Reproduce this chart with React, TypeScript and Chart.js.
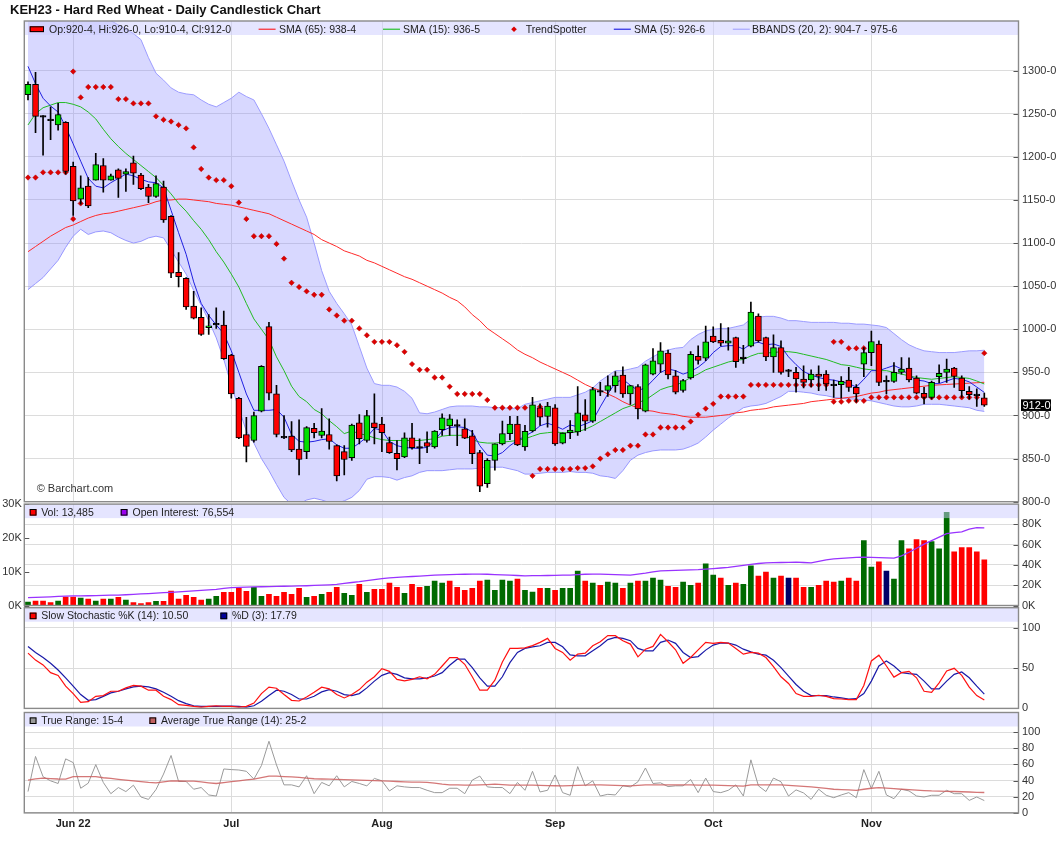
import { useEffect, useRef } from "react";
import { Chart, registerables, type Plugin } from "chart.js";

Chart.register(...registerables);

// ---- data (one value per trading day, May 23 -> Nov 22) ----
const opens = [
    1272, 1284, 1246, 1242, 1237, 1240, 1189, 1151, 1166, 1173,
    1190, 1173, 1185, 1180, 1193, 1179, 1165, 1154, 1165, 1131,
    1066, 1059, 1027, 1014, 1002, 1005, 1005, 970, 920, 878,
    871, 905, 1003, 925, 874, 876, 861, 858, 885, 877,
    878, 865, 858, 851, 891.5, 871, 891.5, 890, 868.5, 856,
    852, 874, 862, 868.5, 863.5, 883.5, 888, 887.7, 884.6, 876.5,
    857, 821, 848, 867, 879, 890, 863.5, 882, 909, 899,
    909, 868, 880, 880.8, 900.8, 893.5, 927, 929, 934.6, 947,
    925, 933.5, 905, 948, 959.6, 972.3, 946, 929, 943.5, 968.5,
    966.5, 992, 987.3, 983.8, 990.4, 966, 980.4, 1015.4, 990.4, 968,
    978.8, 951, 950, 942.3, 941.2, 948, 948, 934.6, 935.8, 941,
    932.7, 959.6, 973, 982.7, 939, 939.6, 950, 955, 943.5, 925.8,
    921, 945, 950, 955, 943.5, 928, 923, 920.5,
];
const highs = [
    1287, 1298, 1248, 1258, 1262, 1241, 1194, 1178, 1176, 1204,
    1198, 1180, 1186, 1186, 1201, 1181, 1168, 1178, 1172, 1132,
    1089, 1060, 1044, 1025, 1017, 1025, 1021, 971, 921, 898,
    904, 958, 1008, 935, 900, 893, 895, 887, 891, 908,
    896, 866, 865, 890, 901, 906, 925, 898, 875, 871,
    880, 891, 873, 881, 882.5, 902, 901, 895, 896, 882.7,
    859.6, 850, 867, 893.5, 899, 899, 888.5, 921, 913.5, 915.4,
    912.7, 880, 894, 933.5, 918.5, 932.7, 938.5, 946, 951, 956.5,
    935, 936, 959.6, 977.7, 984.6, 975.8, 952, 942, 974, 980.8,
    1003.8, 1002.7, 1006.5, 1002, 991, 981.5, 1031.5, 1018, 991, 993.5,
    986.5, 953.5, 955.8, 957.7, 953, 957.7, 952, 941, 945, 955.8,
    936, 978.8, 998, 986.5, 946, 961.5, 967.3, 967, 946, 932.7,
    940, 958.8, 965.4, 956, 946, 933.5, 930.8, 926,
];
const lows = [
    1266, 1228, 1202, 1220, 1231, 1180, 1132, 1145, 1141, 1173,
    1159, 1173, 1153, 1160, 1168, 1162, 1147, 1153, 1124, 1060,
    1049, 1023, 1012, 993, 994, 1001, 965, 920, 873, 846,
    869, 904, 918, 875, 873, 858, 831, 850, 874, 874,
    861, 824, 831, 848, 867, 869, 867, 858, 856, 837,
    851, 861, 844, 857, 862, 877, 877, 865, 873, 844,
    811.5, 816.5, 836.5, 866, 872, 865, 859.6, 881, 888.5, 886.5,
    865.4, 867, 873, 877, 882.7, 892, 923, 922, 927, 921,
    912.7, 896, 904, 947, 950, 942.3, 925, 927, 942, 959.6,
    963.5, 984.6, 980.8, 975.8, 955.8, 960.4, 979.6, 985, 963.5, 950,
    948, 945, 927, 932, 933, 928.8, 929, 921, 920, 928,
    915.4, 945, 957.7, 934.6, 925, 938.5, 948, 939, 925, 913.5,
    919, 938, 938.5, 932.7, 921, 919, 910.4, 910.5,
];
const closes = [
    1284, 1247, 1246, 1242, 1249, 1183, 1149, 1164, 1143, 1191,
    1173, 1178, 1175, 1183, 1181, 1163, 1154, 1169, 1127, 1065,
    1061, 1026, 1013, 994, 1004, 1005, 966, 925, 874, 864,
    900, 957, 926, 878, 874, 860, 849, 886, 880, 882,
    870, 830, 849, 889, 873, 900, 886, 880, 857, 850,
    874, 862.7, 862, 864, 882, 897.3, 896, 887.7, 873.8, 855.8,
    818, 848, 867, 879, 890, 866, 881.5, 912.3, 898, 911,
    867, 879.6, 883, 903, 893.5, 930, 927, 934.6, 946, 925,
    934.6, 907.7, 958.8, 963.5, 975, 947, 927, 940.4, 971, 964,
    985.4, 985.4, 983.8, 986.5, 962.3, 966, 1020, 986.5, 968, 978.8,
    950, 951, 942.3, 938.5, 948, 945.4, 936.5, 934.6, 939.6, 932.7,
    925, 973, 985.8, 938.5, 939, 950, 953.8, 941.2, 926, 921,
    938.5, 949, 953.8, 945.4, 928.8, 924.2, 923, 912,
];
const sma5 = [
    1305, 1285, 1268, 1259, 1252, 1235, 1215, 1195, 1175, 1166,
    1164, 1170, 1175, 1180, 1178, 1174, 1171, 1170, 1164, 1138,
    1112, 1087, 1055, 1030, 1016, 1005, 995, 975, 950, 925,
    906, 906, 906, 907, 898, 878, 870, 869, 870, 872,
    873, 866, 862, 862, 868, 875, 885, 883, 870, 865,
    863, 862, 862, 863, 871, 882, 886, 887, 886, 881,
    865, 854, 853, 857, 865, 871, 876, 881, 888, 891,
    888, 884, 889, 887, 890, 894, 910, 925, 938, 942,
    935, 929, 932, 941, 950, 954, 952, 948, 951, 956,
    963, 973, 980, 981, 981, 977, 983, 985, 982, 983,
    980, 968, 959, 951, 947, 944, 942, 941, 939, 937,
    933, 942, 952, 952, 955, 958, 954, 947, 941, 940,
    937, 937, 940, 943, 942, 939, 933, 926.75,
];
const sma15 = [
    1237, 1250, 1257, 1260, 1263, 1263, 1261, 1258, 1252, 1244,
    1232, 1221, 1212, 1204, 1197, 1190, 1183, 1176, 1167, 1157,
    1146, 1137, 1126, 1116, 1104, 1090, 1078, 1064, 1049, 1030,
    1012, 1000, 988, 968, 952, 934, 922, 916, 907, 902,
    894, 887, 879, 882, 879, 877, 874, 872, 871, 871,
    871, 871, 871, 872, 873, 876, 877, 877, 877, 872,
    869, 868, 868, 869, 870, 871, 873, 876, 879, 880,
    881, 880, 880, 881, 884, 888, 893, 898, 903, 908,
    911, 915, 918, 924, 930, 933, 935, 939, 944, 948,
    953, 956, 959, 962, 964, 965, 969, 972, 972.5, 973,
    974, 974, 973, 971, 969, 967, 965, 962, 959, 958,
    956, 954, 953, 952, 952, 950, 948, 946, 944, 943,
    942, 943, 944, 945, 944, 943, 940, 936.6,
];
const sma65 = [
    1090, 1096, 1102, 1108, 1113, 1118, 1121, 1125, 1129, 1132,
    1134, 1135, 1137, 1139, 1141, 1143, 1145, 1148, 1150, 1150,
    1151, 1151, 1150, 1149, 1148, 1146, 1145, 1144, 1142, 1140,
    1138, 1136, 1134, 1130, 1126, 1122, 1118, 1114, 1110, 1104,
    1100, 1096, 1091, 1088, 1085, 1080, 1077, 1073, 1069, 1065,
    1061, 1058, 1054, 1050, 1046, 1042, 1037, 1033, 1026, 1017,
    1010, 1001, 995, 989, 983, 976, 971, 967, 962, 958,
    954, 950, 946, 941, 936, 932, 929, 925, 921, 916,
    912, 909, 906, 905, 903, 902, 901, 899, 898, 898,
    898, 899, 900, 901, 903, 904, 906, 907, 908, 910,
    911, 912, 913, 914, 916, 917, 918, 919, 920, 921,
    922, 924, 926, 927, 929, 930, 931, 932, 933, 934,
    935, 935.5, 936, 936.5, 937, 937.5, 938, 938.5,
];
const bbUpper = [
    1400, 1395, 1390, 1386, 1383, 1380, 1376, 1372, 1368, 1364,
    1361, 1358, 1353, 1348, 1343, 1336, 1315, 1297, 1289, 1280,
    1275, 1273, 1272, 1266, 1261, 1258, 1263, 1268, 1275, 1270,
    1266, 1250, 1233, 1214, 1195, 1172, 1150, 1130, 1100, 1068,
    1044, 1030, 1018, 1005, 980, 955, 937, 935, 935, 933,
    928, 920, 903, 902, 904, 907, 910, 911, 911, 911,
    910, 910, 909, 909, 908, 908, 913, 915, 917, 919,
    921, 921, 921, 924, 927, 932, 940, 946, 952, 952,
    954, 956, 963, 968, 973, 976, 978, 979, 988, 994,
    998, 1000, 1001, 1001, 1003, 1005, 1012, 1014, 1015, 1015,
    1013, 1010, 1010, 1009, 1008, 1008, 1008, 1008, 1007, 1007,
    1006, 1006, 1005, 1004, 1002, 995, 988, 982, 978, 975,
    974, 973, 973, 973, 974, 975, 975, 975.75,
];
const bbLower = [
    1046, 1053, 1060, 1070, 1080, 1095, 1108, 1116, 1110, 1113,
    1114, 1112, 1107, 1103, 1100, 1102, 1106, 1108, 1106, 1092,
    1078, 1064, 1045, 1028, 1010, 990, 965, 935, 908, 882,
    868, 850, 836, 820, 805, 797, 797, 802, 804, 802,
    799, 798, 801, 805, 813, 826, 829, 829, 828, 825,
    828, 830, 834, 836, 836, 836, 837, 838, 838, 838,
    839, 840, 840, 840, 838, 836, 832, 832, 833, 834,
    834, 834, 835, 834, 834, 833, 830, 829, 827, 836,
    848, 854, 857, 859, 860, 860, 860, 861, 864, 868,
    875, 883, 890, 897, 903, 909, 911, 912, 914, 918,
    922, 928, 928, 927, 926, 924, 923, 921, 920, 919,
    919, 918, 917, 915, 913, 911, 910, 910, 911, 913,
    913, 913, 912, 911, 910, 909, 906, 904.75,
];
const N = null;
const tsAbove = [
    N, N, N, N, N, N, 1299, 1269, 1281, 1281,
    1281, 1281, 1267, 1267, 1262, 1262, 1262, 1247, 1243, 1241,
    1237, 1233, 1211, 1186, 1176, 1173, 1173, 1166, 1147, 1128,
    1108, 1108, 1108, 1099, 1082, 1054, 1049, 1044, 1040, 1040,
    1023, 1016, 1010, 1010, 1001, 993, 985.4, 985.4, 985.4, 981.5,
    973.8, 959.6, 953, 953, 944, 944, 933.5, 925, 925, 925,
    925, 918, 909, 909, 909, 909, 909, 909, 910, N,
    N, N, N, N, N, N, N, N, N, N,
    N, N, N, N, N, N, N, N, N, N,
    N, N, N, N, N, N, N, N, N, N,
    N, N, N, N, N, N, N, 985.4, 985.4, 978,
    978, 978, N, N, N, N, N, N, N, N,
    N, N, N, N, N, N, N, 972.3,
];
const tsBelow = [
    1176, 1176, 1182, 1182, 1182, 1182, 1128, 1146, N, N,
    N, N, N, N, N, N, N, N, N, N,
    N, N, N, N, N, N, N, N, N, N,
    N, N, N, N, N, N, N, N, N, N,
    N, N, N, N, N, N, N, N, N, N,
    N, N, N, N, N, N, N, N, N, N,
    N, N, N, N, N, N, N, 830, 838, 838,
    838, 838, 838, 839, 839, 841, 850, 855, 860, 860,
    865, 865, 878, 878, 886, 886, 886, 886, 893, 901,
    908, 913.5, 922, 922, 922, 922, 935.5, 935.5, 935.5, 935.5,
    935.5, 935.5, 935.5, 935.5, 935.5, 935.5, 935.5, 916, 916, 917,
    917, 917, 921, 921, 921, 921, 921, 921, 921, 921,
    921, 921, 921, 921, 921, 921, 921, N,
];
// volume and open interest, thousands of contracts
const volume = [
    1.0, 1.3, 1.3, 0.9, 1.3, 2.5, 2.5, 2.2, 1.9, 1.3,
    1.9, 1.9, 2.4, 1.6, 0.9, 0.6, 0.9, 1.2, 1.2, 4.3,
    1.9, 3.0, 2.4, 1.6, 1.9, 2.7, 3.9, 3.9, 5.1, 4.2,
    5.4, 2.7, 3.3, 2.7, 3.9, 3.3, 5.1, 2.4, 2.7, 3.3,
    3.9, 5.4, 3.6, 3.0, 6.3, 3.9, 4.8, 4.8, 6.6, 5.4,
    3.6, 6.3, 5.4, 5.7, 7.2, 6.6, 7.2, 5.4, 4.5, 5.1,
    7.2, 7.5, 4.5, 7.5, 7.2, 7.8, 4.5, 4.0, 5.1, 5.1,
    4.5, 5.1, 5.1, 10.2, 7.2, 6.6, 6.0, 6.9, 6.6, 5.1,
    6.6, 7.2, 7.2, 8.1, 7.5, 5.7, 5.4, 6.9, 6.0, 6.6,
    12.3, 9.0, 8.1, 6.0, 6.6, 6.3, 11.7, 8.7, 9.9, 8.1,
    8.7, 8.1, 8.1, 5.4, 5.4, 6.0, 7.2, 6.9, 7.2, 8.1,
    7.2, 19.2, 11.4, 12.9, 10.2, 7.8, 19.2, 16.8, 19.5, 19.2,
    18.9, 16.8, 27.6, 15.9, 17.1, 17.1, 15.9, 13.485,
];
// 1 = closed up, -1 = closed down, 0 = unchanged
const volDir = [
    1, -1, -1, -1, 1, -1, -1, 1, -1, 1,
    -1, 1, -1, 1, -1, -1, -1, 1, -1, -1,
    -1, -1, -1, -1, 1, 1, -1, -1, -1, -1,
    1, 1, -1, -1, -1, -1, -1, 1, -1, 1,
    -1, -1, 1, 1, -1, 1, -1, -1, -1, -1,
    1, -1, -1, 1, 1, 1, -1, -1, -1, -1,
    -1, 1, 1, 1, 1, -1, 1, 1, -1, 1,
    -1, 1, 1, 1, -1, 1, -1, 1, 1, -1,
    1, -1, 1, 1, 1, -1, -1, 1, 1, -1,
    1, 1, -1, 1, -1, 1, 1, -1, -1, 1,
    -1, 0, -1, -1, 1, -1, -1, -1, 1, -1,
    -1, 1, 1, -1, 0, 1, 1, -1, -1, -1,
    1, 1, 1, -1, -1, -1, -1, -1,
];
const openInterest = [
    7.7, 8.0, 8.3, 8.6, 9.0, 9.3, 9.4, 9.5, 9.6, 9.8,
    10.0, 10.2, 10.3, 10.6, 11.0, 11.4, 11.8, 12.2, 12.6, 13.0,
    13.5, 14.0, 14.5, 15.0, 15.5, 16.0, 16.8, 17.6, 17.9, 18.1,
    18.3, 18.5, 18.7, 18.8, 19.0, 19.1, 19.3, 19.5, 19.8, 20.1,
    20.4, 20.8, 21.8, 22.7, 23.5, 24.5, 25.6, 26.5, 27.3, 27.8,
    28.2, 28.6, 29.0, 29.5, 30.0, 30.2, 30.4, 30.6, 30.8, 31.0,
    31.0, 30.8, 30.5, 30.2, 29.9, 29.6, 29.3, 29.4, 29.5, 29.6,
    29.8, 29.9, 30.0, 30.4, 30.8, 31.0, 30.9, 30.7, 30.5, 30.3,
    30.0, 31.0, 32.0, 33.2, 34.2, 34.4, 34.6, 34.9, 35.1, 35.3,
    35.8, 36.4, 37.0, 37.6, 38.5, 39.5, 40.5, 41.4, 42.0, 42.2,
    42.4, 42.6, 42.7, 42.4, 42.1, 43.5, 45.0, 46.0, 46.5, 47.0,
    47.4, 47.7, 47.5, 47.2, 46.9, 46.7, 49.0, 52.5, 56.5, 60.5,
    64.0, 67.5, 70.8, 71.8, 72.7, 75.3, 76.7, 76.554,
];
const stochK = [
    68.6, 60, 54, 44.4, 41, 27.6, 18.4, 7.5, 8.4, 15,
    15.9, 21.3, 21.3, 25.5, 28.5, 27.6, 22.6, 22.6, 15, 10.9,
    4.6, 3.8, 2.5, 1.7, 2.5, 3.3, 2.5, 2.5, 1.7, 2.5,
    6.7, 18.4, 26.4, 25.1, 17.2, 10, 9.2, 14.2, 20, 26.4,
    24.3, 17.2, 13, 17.2, 23.4, 32.6, 39.3, 49.4, 46, 36,
    34.3, 36, 39.3, 36.8, 42.3, 52.7, 63.2, 63.2, 54.8, 39.3,
    22.6, 22.6, 35.1, 57.7, 74.5, 74.5, 75.3, 78, 82, 87,
    74.5, 69.5, 59.8, 67.4, 68.6, 77.8, 82.8, 90.4, 90.4, 84.1,
    79.9, 64, 73.6, 77, 92, 82.8, 72.8, 56, 63.2, 72.8,
    82, 80.8, 82, 81.2, 74.5, 67.4, 69.5, 68.6, 63.2, 51.9,
    39.3, 31, 18.4, 15, 15, 16.3, 15, 12.1, 11.7, 10.9,
    10.9, 28.5, 59, 66.1, 52.7, 38.9, 44.4, 46, 38, 21.3,
    20, 31.8, 46.4, 49.8, 41, 26.4, 15.9, 10.5,
];
const stochD = [
    77, 69.5, 63.2, 56, 47.7, 38, 27.6, 17.2, 10, 10.9,
    15, 19.2, 21.3, 24.3, 26.8, 27.6, 26.8, 24.3, 20, 15,
    9.6, 5.9, 3.3, 2.5, 2.5, 2.5, 2.9, 2.9, 2.5, 1.7,
    3.3, 8.8, 15.9, 22.6, 21.3, 17.2, 11.7, 11.7, 15, 20.5,
    23.4, 21.3, 17.2, 15.9, 18.4, 25.5, 33.9, 41, 44.4, 42.3,
    38, 36.8, 36.8, 38, 40.2, 44.4, 53.6, 61.1, 61.1, 50.6,
    38, 27.6, 27.6, 39.3, 56.9, 69.5, 74.5, 76.5, 77.8, 82,
    82, 76.6, 66.5, 65.3, 65.3, 71.5, 77.8, 85.4, 88.3, 87,
    84.1, 74.5, 71.5, 71.5, 82, 84.9, 80.8, 69.5, 63.2, 64.4,
    72.4, 78.7, 81.2, 81.2, 78.7, 73.6, 70.3, 67.4, 66.1, 59.8,
    50.6, 40.2, 29.7, 21.3, 15.9, 15.9, 15.9, 14.2, 13, 11.7,
    12.1, 18.4, 33.9, 52.7, 59, 52.7, 44.4, 43.1, 42.3, 33.9,
    24.3, 24.3, 33.9, 42.3, 45.2, 38, 27.6, 17.79,
];
const trueRange = [
    26.4, 69.9, 44.8, 39.7, 36.4, 66.9, 62.3, 30.5, 36.8, 59.8,
    37.7, 23.8, 31.4, 26.4, 34.3, 19.7, 16.7, 28.9, 48.1, 71.1,
    38.9, 38.9, 29.3, 31.4, 22.2, 20.9, 54.4, 53.6, 53.1, 51.5,
    41.8, 58.6, 88.7, 59.4, 34.7, 34.7, 32.2, 46, 23.8, 37.7,
    33.5, 46, 32.2, 38.9, 36.4, 33.5, 42.7, 39.7, 27.2, 33.5,
    32.2, 31.4, 31.4, 28, 25.1, 25.1, 30.5, 30.5, 23.8, 40.6,
    45.6, 32.2, 31.4, 31.4, 23.8, 37.7, 28, 51.5, 25.9, 28,
    46.9, 25.1, 21.8, 57.3, 33.5, 39.7, 20.9, 23, 22.2, 33.5,
    32.2, 38.5, 55.6, 36.4, 37.2, 32.6, 33.5, 33.5, 41.4, 25.1,
    43.1, 26.4, 25.1, 28, 34.7, 20.9, 65.7, 33.5, 26.4, 43.1,
    38.5, 20.9, 28.5, 24.7, 16.7, 29.3, 21.8, 18.8, 22.2, 25.1,
    18.8, 53.6, 30.1, 51.5, 22.2, 17.6, 29.3, 27.2, 20.9, 19.7,
    21.8, 21.8, 28, 23.8, 23.8, 15.5, 19.7, 15.25,
];
const avgTrueRange = [
    40.6, 42, 43.1, 42.5, 42, 41.8, 44.8, 44.8, 44.8, 44.8,
    43.5, 42.7, 41.5, 40.5, 39.7, 38.8, 37.7, 37.2, 38.5, 39.7,
    39.5, 39.4, 39.3, 38.3, 37.3, 36.4, 37.5, 38.6, 39.7, 40.8,
    41.8, 43.7, 45.6, 45.6, 45, 44.5, 43.9, 43.1, 42.3, 42,
    41.7, 41.4, 41.1, 40.9, 40.6, 40.3, 40, 39.7, 39.3, 38.9,
    38.5, 38.2, 38, 37.7, 36.8, 35.5, 34.7, 34.6, 34.5, 34.3,
    34.6, 35, 35.6, 35, 34.4, 34.3, 34.3, 34.3, 34, 33.8,
    33.6, 33.5, 33.8, 34.1, 34.4, 34.6, 34.7, 34.4, 34.1, 33.8,
    33.5, 34.1, 34.7, 34.7, 34.7, 34.7, 34.7, 34.7, 34.6, 34.5,
    34.4, 34.3, 34, 33.7, 33.4, 33.1, 34.7, 34.7, 34.7, 34.7,
    34.7, 34.1, 33.5, 32.8, 32.1, 31.4, 30.4, 29.3, 28.9, 28.4,
    28, 29.3, 30.5, 31.4, 30.7, 30, 29.3, 28.8, 28.3, 27.7,
    27.2, 27, 26.7, 26.5, 26.2, 25.9, 25.5, 25.25,
];

const monthStarts = [6, 27, 47, 70, 91, 112];
const monthLabels = ["Jun 22", "Jul", "Aug", "Sep", "Oct", "Nov"];
const priceTicks = [800, 850, 900, 950, 1000, 1050, 1100, 1150, 1200, 1250, 1300];
const volTicks = [0, 10, 20, 30];
const oiTicks = [0, 20, 40, 60, 80];
const stochTicks = [0, 50, 100];
const trTicks = [0, 20, 40, 60, 80, 100];
const lastClose = 912;

// ---- layout / style ----
const FONT = "'Liberation Sans', Arial, Helvetica, sans-serif";
const W = 1060;
const AREA_L = 24.3;
const AREA_R = 1018.5;
const X0 = 28;
const DX = 7.53;
const X_MIN = (AREA_L - X0) / DX;
const X_MAX = (AREA_R - X0) / DX;
const GRID = "#dcdcdc";
const STRIP = "rgba(204,204,255,0.5)";
const STRIP_H = 14;
const UP = "#00e000";
const DOWN = "#ff0000";

const pts = (arr: (number | null)[]) =>
    arr.map((y, x) => ({ x, y })).filter(p => p.y !== null);

const line = (arr: (number | null)[], color: string, width = 1) => ({
    type: "line",
    data: pts(arr),
    borderColor: color,
    borderWidth: width,
    pointRadius: 0,
    tension: 0,
    fill: false,
});

const xScale = {
    type: "linear",
    min: X_MIN,
    max: X_MAX,
    display: false,
    offset: false,
    afterFit: (s: any) => { s.height = 0; s.paddingLeft = 0; s.paddingRight = 0; },
};

function yAxis(position: "left" | "right", min: number, max: number, ticks: number[],
    fmt: (v: number) => string, grid: boolean) {
    return {
        position, min, max,
        ticks: {
            callback: (v: any) => fmt(Number(v)),
            font: { family: FONT, size: 11 },
            color: "#333",
            padding: position === "right" ? 3.5 : 2.5,
            autoSkip: false,
        },
        grid: { display: grid, color: GRID, drawTicks: false },
        border: { display: false },
        afterBuildTicks: (s: any) => { s.ticks = ticks.map(value => ({ value })); },
        afterFit: (s: any) => {
            s.width = position === "right" ? W - AREA_R : AREA_L;
            s.paddingTop = 0;
            s.paddingBottom = 0;
        },
    };
}

type Mark = { kind: "candle" | "line" | "diamond" | "box"; color: string; at: number; textAt: number; text: string };

function panelPlugin(legend: Mark[], tickAxes: [string, "left" | "right"][], extra?: (c: Chart) => void): Plugin {
    return {
        id: "panel",
        beforeDatasetsDraw(chart) {
            const { ctx, chartArea: a, scales } = chart;
            ctx.save();
            ctx.strokeStyle = GRID;
            ctx.lineWidth = 1;
            for (const m of monthStarts) {
                const x = Math.round(scales.x.getPixelForValue(m)) + 0.5;
                ctx.beginPath();
                ctx.moveTo(x, a.top);
                ctx.lineTo(x, a.bottom);
                ctx.stroke();
            }
            ctx.restore();
        },
        afterDatasetsDraw(chart) {
            const { ctx, chartArea: a } = chart;
            ctx.save();
            ctx.fillStyle = STRIP;
            ctx.fillRect(a.left, a.top, a.right - a.left, STRIP_H);

            ctx.strokeStyle = "#555";
            ctx.lineWidth = 1;
            for (const [id, side] of tickAxes) {
                const s: any = chart.scales[id];
                for (const t of s.ticks) {
                    const y = Math.round(s.getPixelForValue(t.value)) + 0.5;
                    ctx.beginPath();
                    if (side === "right") { ctx.moveTo(a.right - 5, y); ctx.lineTo(a.right, y); }
                    else { ctx.moveTo(a.left, y); ctx.lineTo(a.left + 5, y); }
                    ctx.stroke();
                }
            }

            ctx.strokeStyle = "#8a8a8a";
            ctx.lineWidth = 1.4;
            ctx.strokeRect(a.left, a.top, a.right - a.left, a.bottom - a.top);

            const cy = a.top + 8.2;
            ctx.font = `10.5px ${FONT}`;
            ctx.textBaseline = "alphabetic";
            for (const m of legend) {
                ctx.lineWidth = 1;
                if (m.kind === "candle") {
                    ctx.fillStyle = m.color;
                    ctx.fillRect(m.at, cy - 2.9, 14.3, 5.8);
                    ctx.strokeStyle = "#000";
                    ctx.strokeRect(m.at + 0.5, cy - 2.4, 13.3, 4.8);
                } else if (m.kind === "line") {
                    ctx.strokeStyle = m.color;
                    ctx.beginPath();
                    ctx.moveTo(m.at, cy);
                    ctx.lineTo(m.at + 17, cy);
                    ctx.stroke();
                } else if (m.kind === "diamond") {
                    ctx.fillStyle = m.color;
                    ctx.beginPath();
                    ctx.moveTo(m.at, cy - 2.8);
                    ctx.lineTo(m.at + 2.8, cy);
                    ctx.lineTo(m.at, cy + 2.8);
                    ctx.lineTo(m.at - 2.8, cy);
                    ctx.closePath();
                    ctx.fill();
                } else {
                    ctx.fillStyle = m.color;
                    ctx.fillRect(m.at, cy - 3.3, 6.8, 6.6);
                    ctx.strokeStyle = "#000";
                    ctx.strokeRect(m.at + 0.5, cy - 2.8, 5.8, 5.6);
                }
                ctx.fillStyle = "#222";
                ctx.fillText(m.text, m.textAt, a.top + 11.6);
            }
            extra?.(chart);
            ctx.restore();
        },
    };
}

const common = (pad: { top: number; bottom: number; left: number }) => ({
    responsive: true,
    maintainAspectRatio: false,
    animation: false,
    events: [],
    layout: { padding: { top: pad.top, bottom: pad.bottom, left: pad.left, right: 0 } },
    plugins: { legend: { display: false }, tooltip: { enabled: false } },
});

function priceConfig(): any {
    const bodyColor = closes.map((c, i) => (c > opens[i] ? UP : c < opens[i] ? DOWN : "#000"));
    return {
        type: "line",
        data: {
            datasets: [
                { ...line(bbLower, "#9c9cff"), order: 8 },
                { ...line(bbUpper, "#9c9cff"), fill: "-1", backgroundColor: "rgba(128,128,255,0.31)", order: 7 },
                { ...line(sma65, "#ff2a2a"), order: 6 },
                { ...line(sma15, "#22bb22"), order: 5 },
                { ...line(sma5, "#2020e0"), order: 4 },
                {
                    type: "line", data: pts(tsAbove), showLine: false, pointStyle: "rectRot", pointRadius: 2.7,
                    pointBackgroundColor: "#dd0000", pointBorderColor: "#b00000", pointBorderWidth: 0.5, order: 3,
                },
                {
                    type: "line", data: pts(tsBelow), showLine: false, pointStyle: "rectRot", pointRadius: 2.7,
                    pointBackgroundColor: "#dd0000", pointBorderColor: "#b00000", pointBorderWidth: 0.5, order: 3,
                },
                {
                    type: "bar", data: lows.map((l, i) => ({ x: i, y: [l, highs[i]] })),
                    backgroundColor: "#000", barThickness: 1, grouped: false, order: 2,
                },
                {
                    type: "bar",
                    data: opens.map((o, i) => ({ x: i, y: [Math.min(o, closes[i]), Math.max(o, closes[i])] })),
                    backgroundColor: bodyColor, borderColor: "#000", borderWidth: 1, borderSkipped: false,
                    barThickness: 6, minBarLength: 1.6, grouped: false, order: 1,
                },
            ],
        },
        options: {
            ...common({ top: 21, bottom: 512 - 501.7, left: AREA_L }),
            scales: {
                x: xScale,
                y: yAxis("right", 800, 1357.6, priceTicks, v => `${v}-0`, true),
            },
        },
        plugins: [panelPlugin([
            { kind: "candle", color: DOWN, at: 29.7, textAt: 49, text: "Op:920-4, Hi:926-0, Lo:910-4, Cl:912-0" },
            { kind: "line", color: "#ff0000", at: 258.6, textAt: 279, text: "SMA (65): 938-4" },
            { kind: "line", color: "#00bb00", at: 383, textAt: 403, text: "SMA (15): 936-5" },
            { kind: "diamond", color: "#dd0000", at: 514, textAt: 525.7, text: "TrendSpotter" },
            { kind: "line", color: "#0000dd", at: 613.8, textAt: 634, text: "SMA (5): 926-6" },
            { kind: "line", color: "#9c9cff", at: 732.8, textAt: 752, text: "BBANDS (20, 2): 904-7 - 975-6" },
        ], [["y", "right"]], (chart) => {
            const { ctx } = chart;
            ctx.fillStyle = "#111";
            ctx.font = `bold 13px ${FONT}`;
            ctx.fillText("KEH23 - Hard Red Wheat - Daily Candlestick Chart", 10, 13.5);
            ctx.fillStyle = "#333";
            ctx.font = `11px ${FONT}`;
            ctx.fillText("© Barchart.com", 36.7, 491.5);
            const y = chart.scales.y.getPixelForValue(lastClose);
            ctx.fillStyle = "#000";
            ctx.fillRect(1021, y - 5.8, 30, 11.6);
            ctx.fillStyle = "#fff";
            ctx.textBaseline = "middle";
            ctx.fillText(`${lastClose}-0`, 1022.5, y + 0.5);
        })],
    };
}

function volumeConfig(): any {
    return {
        type: "line",
        data: {
            datasets: [
                {
                    type: "bar", yAxisID: "yv", data: volume.map((v, i) => ({ x: i, y: v })),
                    backgroundColor: volDir.map(d => (d > 0 ? "#006a00" : d < 0 ? "#ff0000" : "#000066")),
                    barThickness: 5, grouped: false, order: 2,
                },
                { ...line(openInterest, "#9933ff", 1.3), yAxisID: "yoi", order: 1 },
            ],
        },
        options: {
            ...common({ top: 504.1 - 496, bottom: 612 - 605.5, left: 0 }),
            scales: {
                x: xScale,
                yv: yAxis("left", 0, 30, volTicks, v => `${v}K`, false),
                yoi: yAxis("right", 0, 100, oiTicks, v => `${v}K`, true),
            },
        },
        plugins: [panelPlugin([
            { kind: "box", color: "#ff0000", at: 29.7, textAt: 41.2, text: "Vol: 13,485" },
            { kind: "box", color: "#9900ee", at: 120.7, textAt: 132.5, text: "Open Interest: 76,554" },
        ], [["yv", "left"], ["yoi", "right"]])],
    };
}

function stochConfig(): any {
    return {
        type: "line",
        data: {
            datasets: [
                { ...line(stochD, "#1a1aa8", 1.2), order: 2 },
                { ...line(stochK, "#ff1010", 1.2), order: 1 },
            ],
        },
        options: {
            ...common({ top: 607.7 - 600, bottom: 714 - 708.4, left: AREA_L }),
            scales: {
                x: xScale,
                y: yAxis("right", 0, 125.1, stochTicks, v => `${v}`, true),
            },
        },
        plugins: [panelPlugin([
            { kind: "box", color: "#ff0000", at: 29.7, textAt: 41.2, text: "Slow Stochastic %K (14): 10.50" },
            { kind: "box", color: "#000099", at: 220.4, textAt: 232, text: "%D (3): 17.79" },
        ], [["y", "right"]])],
    };
}

function trConfig(): any {
    return {
        type: "line",
        data: {
            datasets: [
                { ...line(trueRange, "#9a9a9a", 1), order: 2 },
                { ...line(avgTrueRange, "rgba(205,95,95,0.85)", 1.3), order: 1 },
            ],
        },
        options: {
            ...common({ top: 712.5 - 704, bottom: 851 - 812.9, left: AREA_L }),
            scales: {
                x: xScale,
                y: yAxis("right", 0, 124.3, trTicks, v => `${v}`, true),
            },
        },
        plugins: [panelPlugin([
            { kind: "box", color: "#999999", at: 29.7, textAt: 41.2, text: "True Range: 15-4" },
            { kind: "box", color: "#c06060", at: 149.4, textAt: 161, text: "Average True Range (14): 25-2" },
        ], [["y", "right"]], (chart) => {
            const { ctx } = chart;
            ctx.fillStyle = "#222";
            ctx.font = `bold 11px ${FONT}`;
            ctx.textAlign = "center";
            ctx.textBaseline = "alphabetic";
            monthStarts.forEach((m, k) => {
                ctx.fillText(monthLabels[k], chart.scales.x.getPixelForValue(m), 826.5 - 704);
            });
        })],
    };
}

const PANELS = [
    { top: 0, height: 512, make: priceConfig },
    { top: 496, height: 116, make: volumeConfig },
    { top: 600, height: 114, make: stochConfig },
    { top: 704, height: 147, make: trConfig },
];

export default function App() {
    const refs = useRef<(HTMLCanvasElement | null)[]>([]);

    useEffect(() => {
        document.body.style.margin = "0";
        const charts = PANELS.map((p, k) => new Chart(refs.current[k]!, p.make()));
        return () => { charts.forEach(c => c.destroy()); };
    }, []);

    return (
        <div style={{ position: "relative", width: W, height: 851, background: "#fff", overflow: "hidden" }}>
            {PANELS.map((p, k) => (
                <div key={k} style={{ position: "absolute", left: 0, top: p.top, width: W, height: p.height }}>
                    <canvas ref={el => { refs.current[k] = el; }} />
                </div>
            ))}
        </div>
    );
}
